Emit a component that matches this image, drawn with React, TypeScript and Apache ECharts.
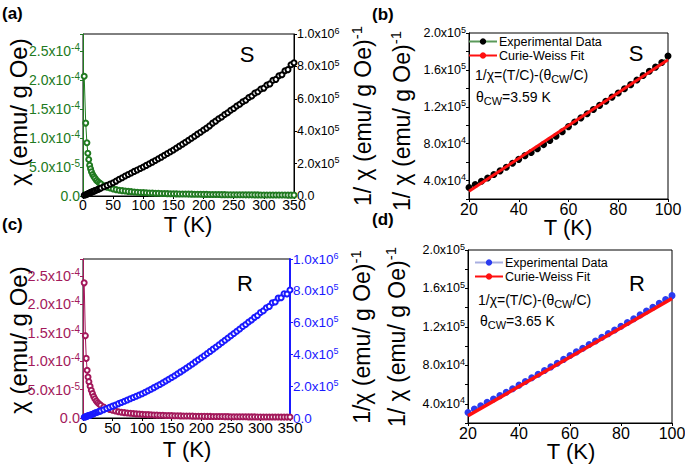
import React, { useEffect, useRef } from 'react';
import * as echarts from 'echarts';

// ---------- data (panel a: sample S, panel c: sample R) ----------
// temperatures, K
const T_S = [2, 4.5, 6.5, 8, 9.5, 11, 12.5, 14, 16, 18, 20, 22.5, 25, 27.5, 30,
  35, 40, 45, 50, 55, 60, 65, 70, 75, 80, 85, 90, 95, 100, 105, 110, 115, 120, 125, 130, 135, 140, 145, 150,
  155, 160, 165, 170, 175, 180, 185, 190, 195, 200, 205, 210, 215, 220, 225, 230, 235, 240, 245, 250,
  255, 260, 265, 270, 275, 280, 285, 290, 295, 300, 305, 310, 315, 320, 325, 330, 335, 340, 345, 350];
// chi, units of 1e-4 emu/(g Oe)
const CHI_S = [2.07, 1.26, 0.92, 0.74, 0.63, 0.53, 0.47, 0.42, 0.37, 0.335, 0.305, 0.27, 0.245, 0.222, 0.205,
  0.175, 0.153, 0.137, 0.122, 0.110, 0.100, 0.093, 0.086, 0.080, 0.075, 0.070, 0.066, 0.062, 0.059, 0.056, 0.053, 0.051, 0.048, 0.046, 0.044, 0.043, 0.041, 0.040, 0.038,
  0.037, 0.036, 0.035, 0.034, 0.033, 0.032, 0.031, 0.030, 0.029, 0.028, 0.028, 0.027, 0.026, 0.026, 0.025, 0.024, 0.024, 0.023, 0.023, 0.022,
  0.022, 0.021, 0.021, 0.020, 0.020, 0.020, 0.019, 0.019, 0.018, 0.018, 0.018, 0.017, 0.017, 0.017, 0.016, 0.016, 0.016, 0.015, 0.015, 0.015];
// 1/chi, units of 1e5 (emu/ g Oe)^-1
const INV_CHI_S = [0.05, 0.08, 0.11, 0.135, 0.16, 0.19, 0.215, 0.24, 0.27, 0.30, 0.33, 0.37, 0.41, 0.45, 0.49,
  0.57, 0.655, 0.735, 0.82, 0.92, 1.03, 1.13, 1.23, 1.33, 1.42, 1.52, 1.61, 1.70, 1.79, 1.89, 1.99, 2.09, 2.19, 2.30, 2.40, 2.51, 2.62, 2.73, 2.84,
  2.96, 3.08, 3.20, 3.32, 3.44, 3.57, 3.69, 3.82, 3.94, 4.07, 4.19, 4.33, 4.50, 4.62, 4.77, 4.88, 5.03, 5.14, 5.29, 5.40,
  5.56, 5.66, 5.82, 5.91, 6.08, 6.17, 6.35, 6.43, 6.60, 6.66, 6.85, 6.92, 7.14, 7.20, 7.42, 7.48, 7.73, 7.80, 8.10, 8.22];

const T_R = [2, 4, 5.5, 7, 8.5, 10, 12, 14, 16, 18, 20, 22.5, 25, 27.5, 30,
  35, 40, 45, 50, 55, 60, 65, 70, 75, 80, 85, 90, 95, 100, 105, 110, 115, 120, 125, 130, 135, 140, 145, 150,
  155, 160, 165, 170, 175, 180, 185, 190, 195, 200, 205, 210, 215, 220, 225, 230, 235, 240, 245, 250,
  255, 260, 265, 270, 275, 280, 285, 290, 295, 300, 305, 310, 315, 320, 325, 330, 335, 340, 345, 350];
const CHI_R = [2.38, 1.45, 1.05, 0.84, 0.72, 0.64, 0.56, 0.49, 0.43, 0.38, 0.34, 0.30, 0.27, 0.245, 0.225,
  0.193, 0.168, 0.150, 0.135, 0.122, 0.111, 0.102, 0.095, 0.088, 0.083, 0.078, 0.073, 0.069, 0.066, 0.062, 0.059, 0.056, 0.053, 0.051, 0.049, 0.047, 0.045, 0.043, 0.042,
  0.040, 0.039, 0.037, 0.036, 0.035, 0.034, 0.033, 0.032, 0.031, 0.030, 0.029, 0.028, 0.028, 0.027, 0.026, 0.026, 0.025, 0.024, 0.024, 0.023,
  0.023, 0.022, 0.022, 0.021, 0.021, 0.020, 0.020, 0.020, 0.019, 0.019, 0.018, 0.018, 0.018, 0.017, 0.017, 0.017, 0.016, 0.016, 0.016, 0.016];
const INV_CHI_R = [0.042, 0.069, 0.095, 0.119, 0.139, 0.156, 0.179, 0.204, 0.232, 0.263, 0.31, 0.345, 0.38, 0.415, 0.45,
  0.52, 0.594, 0.67, 0.746, 0.822, 0.902, 0.978, 1.054, 1.13, 1.206, 1.285, 1.365, 1.445, 1.525, 1.62, 1.71, 1.81, 1.91, 2.01, 2.11, 2.22, 2.33, 2.44, 2.55,
  2.66, 2.78, 2.90, 3.02, 3.14, 3.27, 3.40, 3.53, 3.66, 3.79, 3.92, 4.06, 4.19, 4.33, 4.47, 4.61, 4.75, 4.89, 5.03, 5.17,
  5.31, 5.46, 5.60, 5.75, 5.88, 6.04, 6.16, 6.33, 6.45, 6.63, 6.74, 6.93, 7.02, 7.25, 7.30, 7.54, 7.56, 7.82, 7.80, 8.05];

// ---------- data (panels b, d: Curie-Weiss fits, 1/chi in units of 1e4) ----------
const T_CW = [20, 22.5, 25, 27.5, 30, 32.5, 35, 37.5, 40, 42.5, 45, 47.5, 50, 52.5, 55, 57.5, 60,
  62.5, 65, 67.5, 70, 72.5, 75, 77.5, 80, 82.5, 85, 87.5, 90, 92.5, 95, 97.5, 100];
const EXP_S = [3.25, 3.58, 3.92, 4.28, 4.66, 5.05, 5.45, 5.88, 6.30, 6.70, 7.05, 7.45, 7.90, 8.35, 8.80, 9.30, 9.85,
  10.35, 10.80, 11.25, 11.70, 12.15, 12.60, 13.05, 13.50, 13.95, 14.40, 14.90, 15.40, 15.85, 16.30, 16.80, 17.50];
const EXP_R = [3.10, 3.45, 3.80, 4.15, 4.50, 4.85, 5.20, 5.57, 5.94, 6.32, 6.70, 7.08, 7.46, 7.84, 8.22, 8.62, 9.02,
  9.40, 9.78, 10.16, 10.54, 10.92, 11.30, 11.68, 12.06, 12.45, 12.85, 13.25, 13.65, 14.05, 14.45, 14.85, 15.25];
const T_FIT = [20, 100];
const FIT_S = [2.83, 17.1];
const FIT_R = [2.75, 14.95];

const LEGEND_NAMES: Record<string, string> = {
  'S-exp': 'Experimental Data', 'S-fit': 'Curie-Weiss Fit',
  'R-exp': 'Experimental Data', 'R-fit': 'Curie-Weiss Fit',
};

const FONT = '"Liberation Sans", Arial, Helvetica, sans-serif';
const GREEN = '#217a21';
const CRIMSON = '#a3195b';
const BLUE = '#1a1aff';
const DOT_BLUE = '#2a3bf0';
const RED = '#ff1010';

const pairs = (xs: number[], ys: number[]) => xs.map((x, i) => [x, ys[i]]);

function sciFormatter(scale: number, step: number) {
  return (v: number) => {
    const k = v / step;
    if (Math.abs(k - Math.round(k)) > 1e-6) return '';
    const real = v * scale;
    if (Math.abs(real) < 1e-30) return '{m|0.0}';
    const e = Math.floor(Math.log10(real) + 1e-9);
    const m = real / Math.pow(10, e);
    return `{m|${m.toFixed(1)}x10}{s|${e}}`;
  };
}

function yAxis(grid: number, pos: string, min: number, max: number, interval: number, color: string,
  fs: number, scale: number, step: number, lw = 1) {
  return {
    type: 'value', gridIndex: grid, position: pos, min, max, interval,
    axisLine: { show: true, onZero: false, lineStyle: { color, width: lw } },
    axisTick: { show: true, length: 3, lineStyle: { color } },
    splitLine: { show: false },
    axisLabel: {
      margin: 3, color, fontFamily: FONT, fontSize: fs, showMinLabel: true, showMaxLabel: true,
      formatter: sciFormatter(scale, step),
      rich: {
        m: { fontSize: fs, color, fontFamily: FONT },
        s: { fontSize: Math.round(fs * 0.68), color, fontFamily: FONT, padding: [0, 0, 7, 0] },
      },
    },
  };
}

function xAxis(grid: number, min: number, max: number, interval: number, fs: number) {
  return {
    type: 'value', gridIndex: grid, min, max, interval,
    axisLine: { show: true, onZero: false, lineStyle: { color: '#000', width: 1 } },
    axisTick: { show: true, length: 3, lineStyle: { color: '#000' } },
    splitLine: { show: false },
    axisLabel: { margin: 2, color: '#000', fontFamily: FONT, fontSize: fs, showMinLabel: true, showMaxLabel: true },
  };
}

function titleText(x: number, y: number, text: string, fs: number, rotate = true) {
  return {
    type: 'text', x, y, rotation: rotate ? Math.PI / 2 : 0, silent: true,
    style: {
      text, align: 'center', verticalAlign: 'middle', fill: '#000', fontFamily: FONT, fontSize: fs,
      rich: {
        a: { fontSize: fs, fontFamily: FONT, fill: '#000' },
        s: { fontSize: Math.round(fs * 0.65), fontFamily: FONT, fill: '#000', padding: [0, 0, 13, 0] },
      },
    },
  };
}

function plainText(x: number, y: number, text: string, fs: number, weight = 'normal', align = 'center') {
  return {
    type: 'text', x, y, silent: true,
    style: { text, align, verticalAlign: 'middle', fill: '#000', fontFamily: FONT, fontSize: fs, fontWeight: weight },
  };
}

function eqText(x: number, y: number, text: string, fs: number) {
  return {
    type: 'text', x, y, silent: true,
    style: {
      text, align: 'left', verticalAlign: 'middle', fill: '#000', fontFamily: FONT, fontSize: fs,
      rich: {
        a: { fontSize: fs, fontFamily: FONT, fill: '#000' },
        b: { fontSize: Math.round(fs * 0.8), fontFamily: FONT, fill: '#000', padding: [8, 0, 0, 0] },
      },
    },
  };
}

export default function App() {
  const ref = useRef<HTMLDivElement>(null);
  useEffect(() => {
    if (!ref.current) return;
    const chart = echarts.init(ref.current, undefined, { renderer: 'svg' });
    const gridBase = { show: true, borderColor: '#000', borderWidth: 1, backgroundColor: 'transparent', containLabel: false, outerBoundsMode: 'none' };
    const option: any = {
      animation: false,
      backgroundColor: '#fff',
      grid: [
        { ...gridBase, left: 83, top: 34, width: 211, height: 162 },
        { ...gridBase, left: 83, top: 259, width: 207, height: 159 },
        { ...gridBase, left: 469, top: 33, width: 199, height: 166 },
        { ...gridBase, left: 468, top: 250, width: 204, height: 173 },
      ],
      xAxis: [
        xAxis(0, 0, 350, 50, 14),
        xAxis(1, 0, 350, 50, 15),
        xAxis(2, 20, 100, 20, 16),
        xAxis(3, 20, 100, 20, 16),
      ],
      yAxis: [
        yAxis(0, 'left', 0, 2.8, 0.5, GREEN, 14, 1e-4, 0.5),
        yAxis(0, 'right', 0, 10, 2, '#000', 12.5, 1e5, 2),
        yAxis(1, 'left', 0, 2.8, 0.5, CRIMSON, 14.5, 1e-4, 0.5),
        yAxis(1, 'right', 0, 10, 2, BLUE, 13.5, 1e5, 2, 2),
        yAxis(2, 'left', 2, 20, 2, '#000', 12.5, 1e4, 4),
        yAxis(3, 'left', 2, 20, 2, '#000', 12.5, 1e4, 4),
      ],
      legend: [
        {
          left: 468, top: 35, orient: 'vertical', padding: 0, itemGap: 1, itemWidth: 28, itemHeight: 8,
          data: ['S-exp', 'S-fit'], formatter: (n: string) => LEGEND_NAMES[n],
          textStyle: { fontFamily: FONT, fontSize: 12.5, color: '#000', padding: [0, 0, 0, -3] }, selectedMode: false,
        },
        {
          left: 474, top: 256, orient: 'vertical', padding: 0, itemGap: 1, itemWidth: 28, itemHeight: 8,
          data: ['R-exp', 'R-fit'], formatter: (n: string) => LEGEND_NAMES[n],
          textStyle: { fontFamily: FONT, fontSize: 12.5, color: '#000', padding: [0, 0, 0, -3] }, selectedMode: false,
        },
      ],
      series: [
        {
          name: 'chi S', type: 'line', xAxisIndex: 0, yAxisIndex: 0, data: pairs(T_S, CHI_S),
          symbol: 'emptyCircle', symbolSize: 5, lineStyle: { color: GREEN, width: 1 },
          itemStyle: { color: GREEN, borderColor: GREEN, borderWidth: 1 },
        },
        {
          name: 'inv S', type: 'line', xAxisIndex: 0, yAxisIndex: 1, data: pairs(T_S, INV_CHI_S),
          symbol: 'emptyCircle', symbolSize: 5, lineStyle: { color: '#000', width: 1 },
          itemStyle: { color: '#000', borderColor: '#000', borderWidth: 1 },
        },
        {
          name: 'chi R', type: 'line', xAxisIndex: 1, yAxisIndex: 2, data: pairs(T_R, CHI_R),
          symbol: 'emptyCircle', symbolSize: 5, lineStyle: { color: CRIMSON, width: 1 },
          itemStyle: { color: CRIMSON, borderColor: CRIMSON, borderWidth: 1 },
        },
        {
          name: 'inv R', type: 'line', xAxisIndex: 1, yAxisIndex: 3, data: pairs(T_R, INV_CHI_R),
          symbol: 'emptyCircle', symbolSize: 5, lineStyle: { color: BLUE, width: 1 },
          itemStyle: { color: BLUE, borderColor: BLUE, borderWidth: 1 },
        },
        {
          name: 'S-exp', type: 'line', xAxisIndex: 2, yAxisIndex: 4, data: pairs(T_CW, EXP_S),
          symbol: 'circle', symbolSize: 7, lineStyle: { color: '#5a9a5a', width: 1 },
          itemStyle: { color: '#000' }, z: 2,
        },
        {
          name: 'S-fit', type: 'line', xAxisIndex: 2, yAxisIndex: 4, data: pairs(T_FIT, FIT_S),
          symbol: 'none', lineStyle: { color: RED, width: 3 }, itemStyle: { color: RED }, z: 3,
        },
        {
          name: 'R-exp', type: 'line', xAxisIndex: 3, yAxisIndex: 5, data: pairs(T_CW, EXP_R),
          symbol: 'circle', symbolSize: 7, lineStyle: { color: '#a8aee0', width: 1 },
          itemStyle: { color: DOT_BLUE }, z: 2,
        },
        {
          name: 'R-fit', type: 'line', xAxisIndex: 3, yAxisIndex: 5, data: pairs(T_FIT, FIT_R),
          symbol: 'none', lineStyle: { color: RED, width: 3.5 }, itemStyle: { color: RED }, z: 3,
        },
      ],
      graphic: {
        elements: [
          plainText(2, 13, '(a)', 17, 'bold', 'left'),
          plainText(372, 14, '(b)', 17, 'bold', 'left'),
          plainText(2, 224, '(c)', 17, 'bold', 'left'),
          plainText(372, 219, '(d)', 17, 'bold', 'left'),
          titleText(18, 112, '{a|χ (emu/ g Oe)}', 24),
          titleText(363, 116, '{a|1/ χ (emu/ g Oe)}{s|-1}', 23),
          titleText(402, 121, '{a|1/ χ (emu/ g Oe)}{s|-1}', 23),
          titleText(18, 340, '{a|χ (emu/ g Oe)}', 24),
          titleText(362, 337, '{a|1/χ (emu/ g Oe)}{s|-1}', 23),
          titleText(397, 337, '{a|1/ χ (emu/ g Oe)}{s|-1}', 23),
          plainText(188, 224, 'T (K)', 22),
          plainText(187, 449, 'T (K)', 22),
          plainText(568, 227, 'T (K)', 22),
          plainText(571, 451, 'T (K)', 22),
          plainText(247, 54, 'S', 22),
          plainText(245, 283, 'R', 22),
          plainText(636, 53, 'S', 22),
          plainText(637, 283, 'R', 22),
          eqText(475, 75, '{a|1/χ=(T/C)-(θ}{b|CW}{a|/C)}', 14),
          eqText(476, 97, '{a|θ}{b|CW}{a|=3.59 K}', 14),
          eqText(478, 300, '{a|1/χ=(T/C)-(θ}{b|CW}{a|/C)}', 14),
          eqText(480, 321, '{a|θ}{b|CW}{a|=3.65 K}', 14),
        ],
      },
    };
    chart.setOption(option);
    return () => chart.dispose();
  }, []);
  return <div ref={ref} style={{ position: 'fixed', left: 0, top: 0, width: 685, height: 465, background: '#fff' }} />;
}
